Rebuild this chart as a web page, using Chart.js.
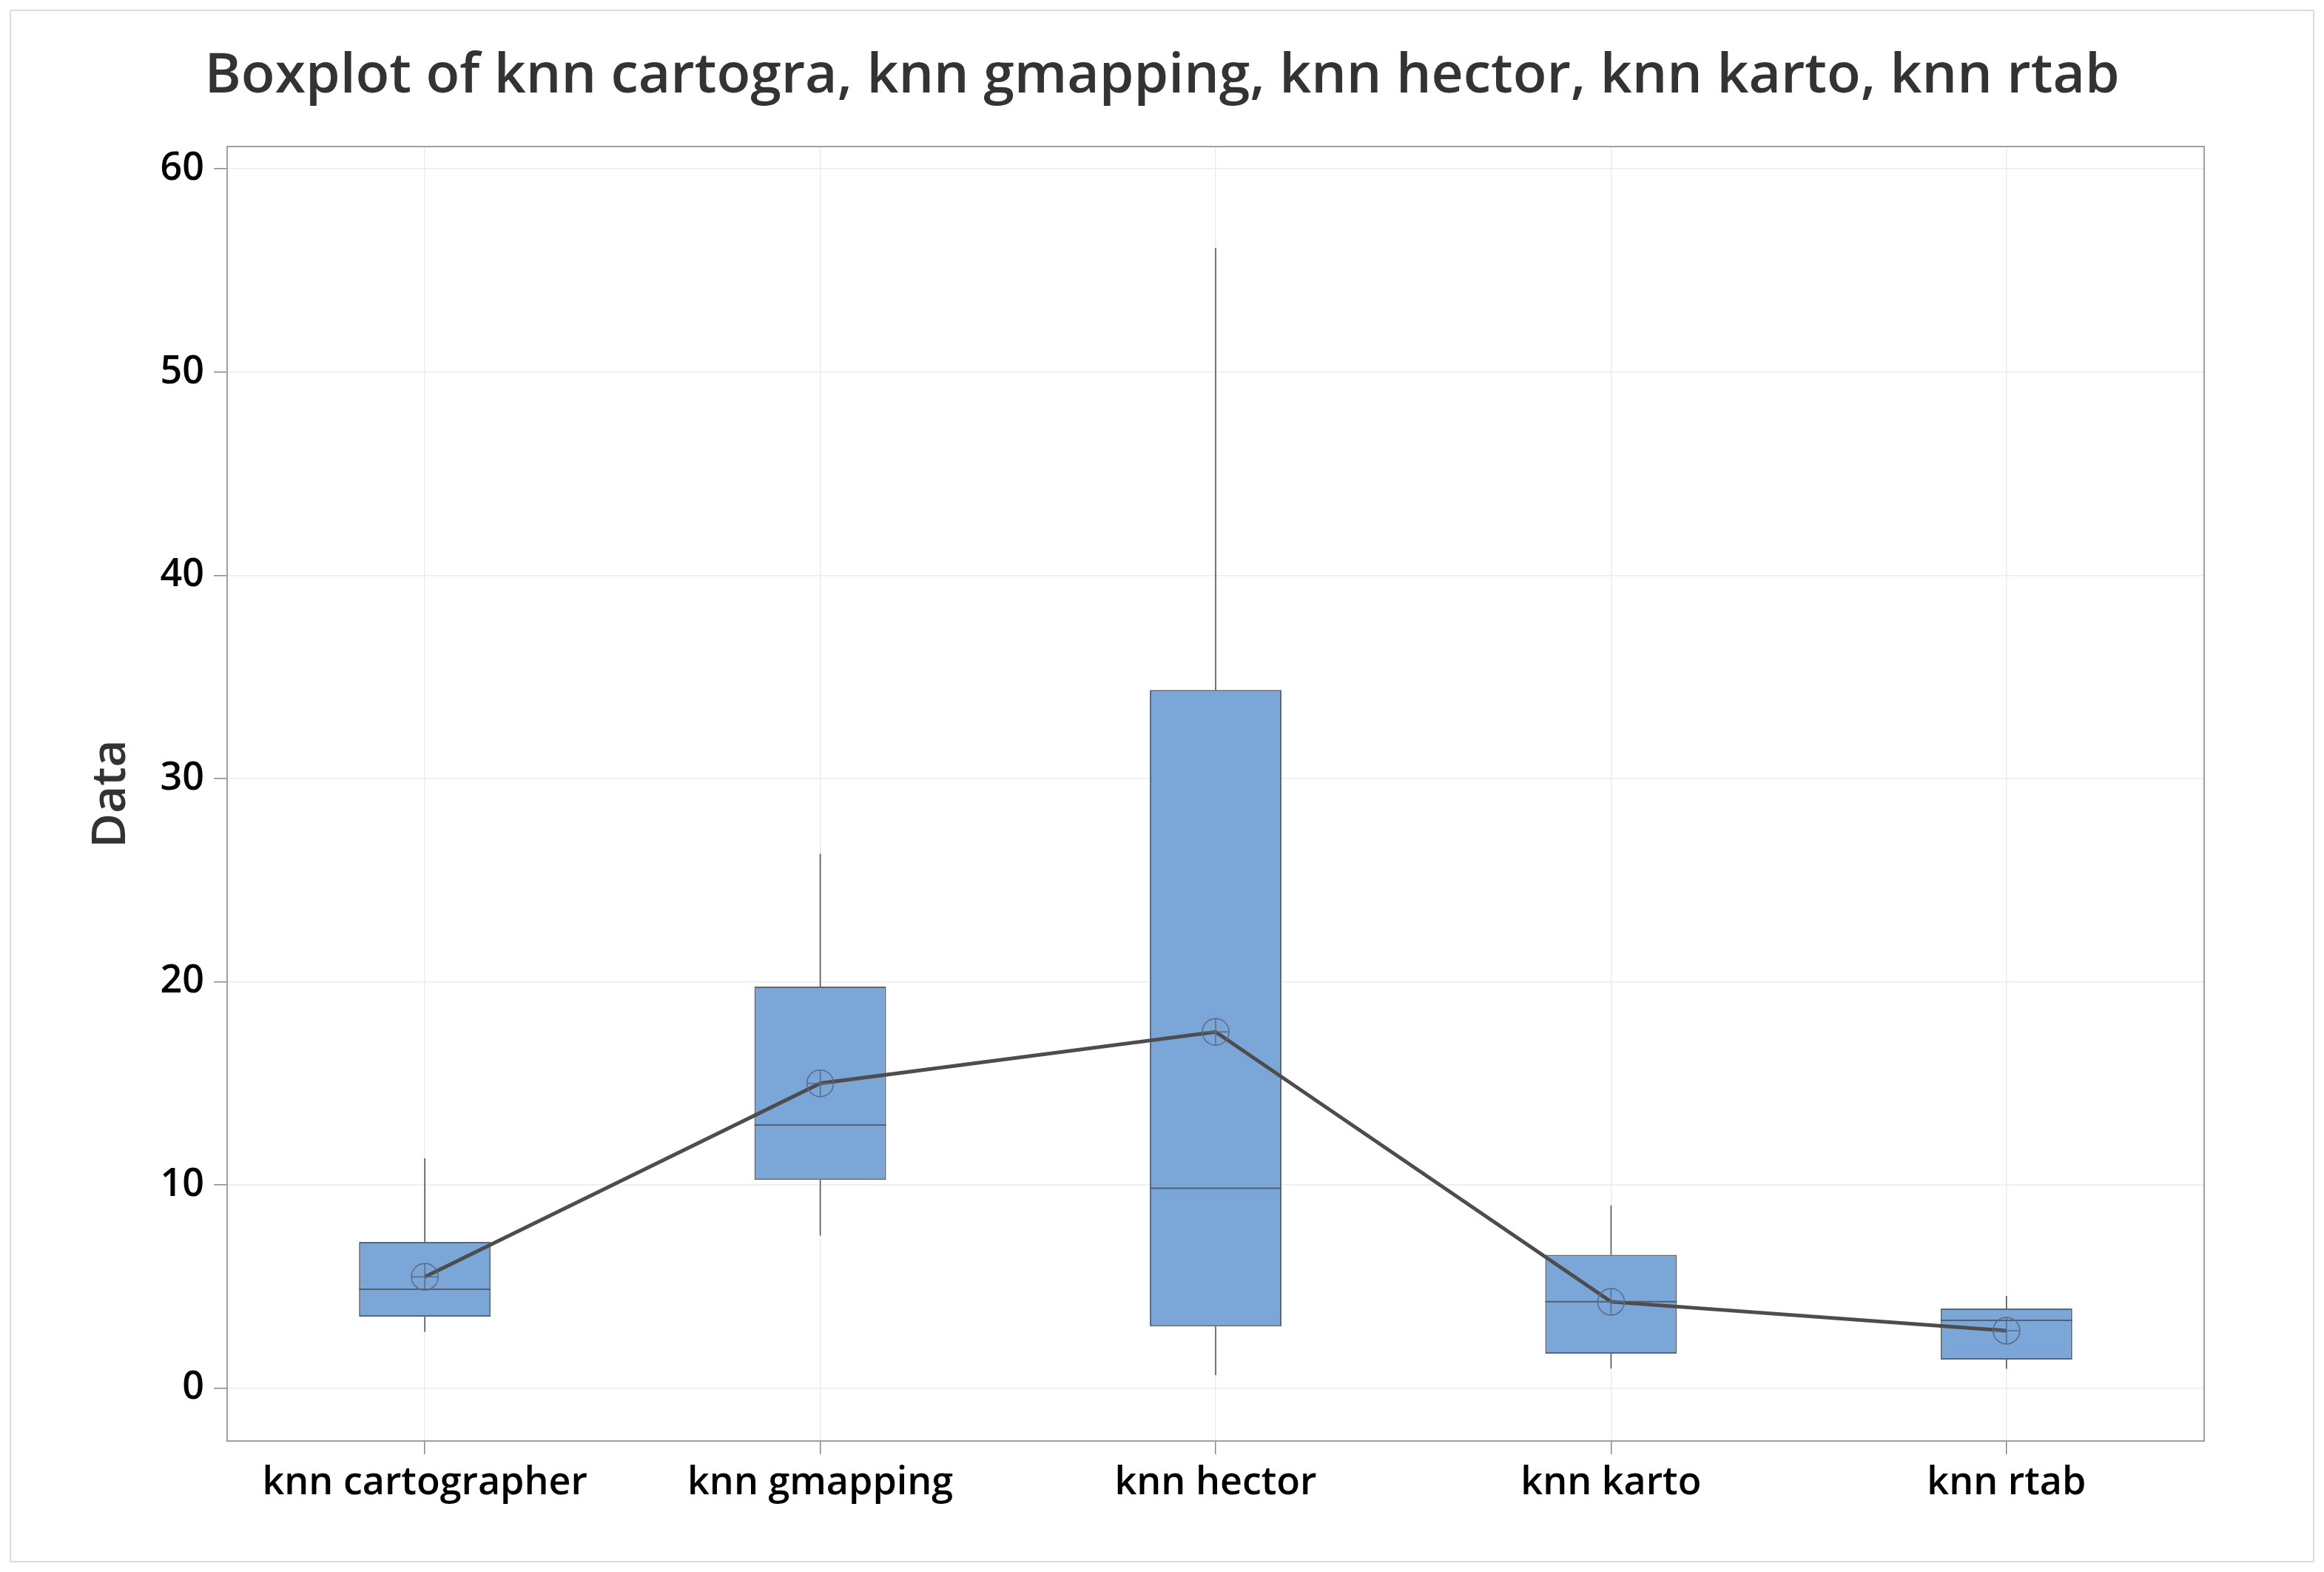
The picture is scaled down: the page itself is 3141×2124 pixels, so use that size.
<!DOCTYPE html>
<html>
<head>
<meta charset="utf-8">
<script src="https://cdn.jsdelivr.net/npm/chart.js@4"></script>
<style>
  body { margin: 0; background: #fff; }
  #wrap { width: 3141px; height: 2124px; position: relative; }
</style>
</head>
<body>
<div id="wrap"><canvas id="boxplot"></canvas></div>
<script>
const labels = ['knn cartographer', 'knn gmapping', 'knn hector', 'knn karto', 'knn rtab'];
const whiskerLow = [2.77, 7.51, 0.64, 0.97, 0.95];
const q1 = [3.52, 10.25, 3.04, 1.70, 1.41];
const median = [4.87, 12.95, 9.84, 4.26, 3.34];
const q3 = [7.20, 19.76, 34.36, 6.56, 3.92];
const whiskerHigh = [11.31, 26.3, 56.1, 9.0, 4.54];
const means = [5.48, 15.0, 17.53, 4.25, 2.83];
const yTicks = [0, 10, 20, 30, 40, 50, 60];

const fontFam = '"Open Sans", "Noto Sans", sans-serif';

// whiskers + medians drawn with the chart's own scales
const boxExtras = {
  id: 'boxExtras',
  beforeDraw(chart) {
    const c = chart.ctx;
    c.save();
    c.fillStyle = '#fff';
    c.fillRect(0, 0, chart.width, chart.height);
    c.strokeStyle = '#dcdcdc';
    c.lineWidth = 2;
    c.strokeRect(14, 14, chart.width - 28, chart.height - 28);
    c.restore();
  },
  afterDatasetDraw(chart, args) {
    if (args.index !== 0) return;
    const c = chart.ctx;
    const x = chart.scales.x, y = chart.scales.y;
    const bars = chart.getDatasetMeta(0).data;
    c.save();
    labels.forEach((l, i) => {
      const px = x.getPixelForValue(i);
      c.strokeStyle = '#555';
      c.lineWidth = 1.6;
      c.beginPath();
      c.moveTo(px, y.getPixelForValue(q3[i]));
      c.lineTo(px, y.getPixelForValue(whiskerHigh[i]));
      c.moveTo(px, y.getPixelForValue(q1[i]));
      c.lineTo(px, y.getPixelForValue(whiskerLow[i]));
      c.stroke();
      const half = bars[i].width / 2;
      c.beginPath();
      c.lineWidth = 2;
      c.strokeStyle = '#55606e';
      c.moveTo(px - half, y.getPixelForValue(median[i]));
      c.lineTo(px + half, y.getPixelForValue(median[i]));
      c.stroke();
    });
    c.restore();
  },
  afterDatasetsDraw(chart) {
    const c = chart.ctx;
    const x = chart.scales.x, y = chart.scales.y;
    c.save();
    c.strokeStyle = '#5b6b82';
    c.lineWidth = 1.5;
    const r = 18;
    means.forEach((m, i) => {
      const px = x.getPixelForValue(i), py = y.getPixelForValue(m);
      c.beginPath();
      c.arc(px, py, r, 0, Math.PI * 2);
      c.moveTo(px - r, py); c.lineTo(px + r, py);
      c.moveTo(px, py - r); c.lineTo(px, py + r);
      c.stroke();
    });
    const a = chart.chartArea;
    c.strokeStyle = '#a0a0a0';
    c.lineWidth = 2;
    c.strokeRect(a.left, a.top, a.right - a.left, a.bottom - a.top);
    c.restore();
  }
};

new Chart(document.getElementById('boxplot'), {
  data: {
    labels: labels,
    datasets: [
      {
        type: 'bar',
        order: 2,
        data: q1.map((v, i) => [v, q3[i]]),
        backgroundColor: '#7ba6d8',
        borderColor: '#5f6670',
        borderWidth: 2,
        borderSkipped: false,
        categoryPercentage: 1,
        barPercentage: 0.333
      },
      {
        type: 'line',
        order: 1,
        data: means,
        borderColor: '#4d4d4d',
        borderWidth: 5,
        pointRadius: 0,
        tension: 0
      }
    ]
  },
  plugins: [boxExtras],
  options: {
    responsive: true,
    maintainAspectRatio: false,
    animation: false,
    layout: { padding: 0 },
    plugins: {
      legend: { display: false },
      tooltip: { enabled: false },
      title: {
        display: true,
        text: 'Boxplot of knn cartogra, knn gmapping, knn hector, knn karto, knn rtab',
        color: '#333',
        font: { family: fontFam, size: 75, weight: '600', lineHeight: 1.2 },
        padding: { top: 59, bottom: 49 }
      }
    },
    scales: {
      x: {
        offset: true,
        grid: { offset: false, color: '#ececec', lineWidth: 1.5, tickColor: '#888', tickLength: 18 },
        border: { display: false },
        ticks: { color: '#000', padding: 8, font: { family: fontFam, size: 52, weight: '600' } },
        afterFit(s) { s.height = 177; }
      },
      y: {
        min: -2.6,
        max: 61.1,
        afterBuildTicks(s) { s.ticks = yTicks.map(v => ({ value: v })); },
        grid: { color: '#ececec', lineWidth: 1.5, tickColor: '#888', tickLength: 18 },
        border: { display: false },
        ticks: { color: '#000', padding: 13, font: { family: fontFam, size: 52, weight: '600' } },
        title: {
          display: true,
          text: 'Data',
          color: '#333',
          font: { family: fontFam, size: 64, weight: '600', lineHeight: 1.2 },
          padding: { top: 112, bottom: 0 }
        },
        afterFit(s) { s.width = 307; }
      },
      yRight: {
        position: 'right',
        min: 0,
        max: 1,
        grid: { display: false, drawTicks: false },
        border: { display: false },
        ticks: { display: false },
        afterFit(s) { s.width = 162; }
      }
    }
  }
});
</script>
</body>
</html>
